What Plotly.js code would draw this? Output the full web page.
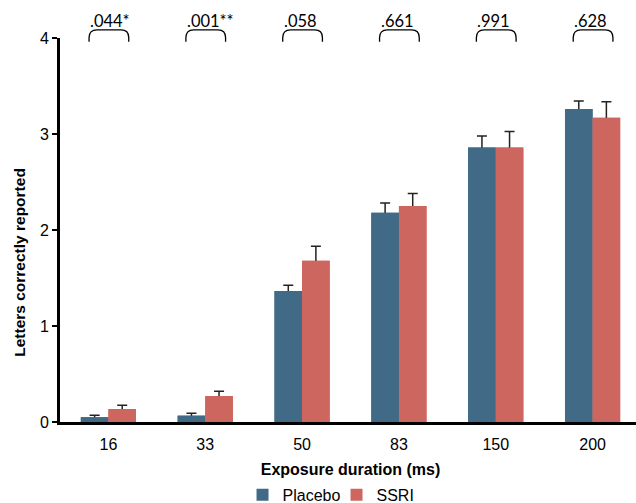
<!DOCTYPE html>
<html>
<head>
<meta charset="utf-8">
<script src="https://cdn.plot.ly/plotly-3.0.1.min.js"></script>
<style>
html,body{margin:0;padding:0;overflow:hidden;background:#fff;}
#chart{width:641px;height:503px;}
</style>
</head>
<body>
<div id="chart"></div>
<script>
// ---- data ----
const categories = ["16", "33", "50", "83", "150", "200"];
const placebo = [0.05, 0.066, 1.365, 2.18, 2.86, 3.26];
const placeboErr = [0.02, 0.025, 0.06, 0.10, 0.12, 0.085];
const ssri = [0.135, 0.27, 1.68, 2.25, 2.86, 3.17];
const ssriErr = [0.04, 0.05, 0.15, 0.13, 0.165, 0.165];
const pValues = [".044*", ".001**", ".058", ".661", ".991", ".628"];
const yTitle = "Letters correctly reported";
const xTitle = "Exposure duration (ms)";

const blue = "#406a86";
const red = "#cd665f";
const errStyle = (arr) => ({type: "data", array: arr, symmetric: true, color: "#222", thickness: 1.5, width: 5});

const traces = [
  {type: "bar", name: "Placebo", x: categories, y: placebo, marker: {color: blue}, error_y: errStyle(placeboErr), xaxis: "x", yaxis: "y"},
  {type: "bar", name: "SSRI", x: categories, y: ssri, marker: {color: red}, error_y: errStyle(ssriErr), xaxis: "x", yaxis: "y"},
  // overlay copies (no error bars) hide the lower half of the error bars, as in the original
  {type: "bar", name: "Placebo", x: categories, y: placebo, marker: {color: blue}, xaxis: "x2", yaxis: "y", showlegend: false, hoverinfo: "skip"},
  {type: "bar", name: "SSRI", x: categories, y: ssri, marker: {color: red}, xaxis: "x2", yaxis: "y", showlegend: false, hoverinfo: "skip"}
];

// brackets + p-value labels
const shapes = [];
const annotations = [];
const hw = 0.2, rx = 0.08, yTop = 1.021, yBot = 0.99, ry = 0.02;
pValues.forEach((p, i) => {
  const x0 = i - hw, x1 = i + hw + 0.01;
  shapes.push({
    type: "path", xref: "x", yref: "paper",
    path: `M ${x0},${yBot} L ${x0},${yTop - ry} Q ${x0},${yTop} ${x0 + rx},${yTop} L ${x1 - rx},${yTop} Q ${x1},${yTop} ${x1},${yTop - ry} L ${x1},${yBot}`,
    line: {color: "#000", width: 1.3}
  });
  annotations.push({
    xref: "x", yref: "paper", x: x0 - 0.01, y: 1.043, xanchor: "left", yanchor: "middle",
    text: p, showarrow: false, font: {family: "Lato, 'Open Sans', sans-serif", size: 16.5, color: "#000"}
  });
});
// y-axis title (placed slightly below the plot centre, as in the original)
annotations.push({
  xref: "paper", yref: "paper", x: -0.069, y: 0.417, xanchor: "center", yanchor: "middle",
  textangle: -90, text: yTitle, showarrow: false,
  font: {family: "'Liberation Sans', Arial, sans-serif", size: 15.5, weight: "bold", color: "#000"}
});

const layout = {
  width: 641, height: 503,
  margin: {l: 60, r: 0, t: 38, b: 81, autoexpand: false},
  paper_bgcolor: "#fff", plot_bgcolor: "#fff",
  font: {family: "'Liberation Sans', Arial, sans-serif", color: "#000", size: 14},
  barmode: "group", bargap: 0.43, bargroupgap: 0,
  showlegend: true,
  legend: {orientation: "h", xref: "container", yref: "container", x: 0.525, xanchor: "center", y: 0.016, yanchor: "middle",
           font: {size: 16}, traceorder: "normal", entrywidth: 49, entrywidthmode: "pixels", itemwidth: 30},
  xaxis: {
    type: "category", categoryorder: "array", categoryarray: categories, automargin: false,
    showline: true, linecolor: "#000", linewidth: 2.5, ticks: "outside", ticklen: 6, tickcolor: "rgba(0,0,0,0)",
    showgrid: false, zeroline: false,
    tickfont: {size: 16},
    title: {text: xTitle, font: {size: 16, weight: "bold"}, standoff: 13}
  },
  xaxis2: {
    type: "category", categoryorder: "array", categoryarray: categories, overlaying: "x", matches: "x",
    showline: false, showticklabels: false, ticks: "", showgrid: false, zeroline: false
  },
  yaxis: {
    range: [0, 4], dtick: 1, showline: true, linecolor: "#000", linewidth: 3, automargin: false,
    ticks: "outside", ticklen: 5, tickwidth: 2, tickcolor: "#000", showgrid: false, zeroline: false,
    tickfont: {size: 16}
  },
  shapes: shapes,
  annotations: annotations
};

Plotly.newPlot("chart", traces, layout, {displayModeBar: false, staticPlot: true});
</script>
</body>
</html>
